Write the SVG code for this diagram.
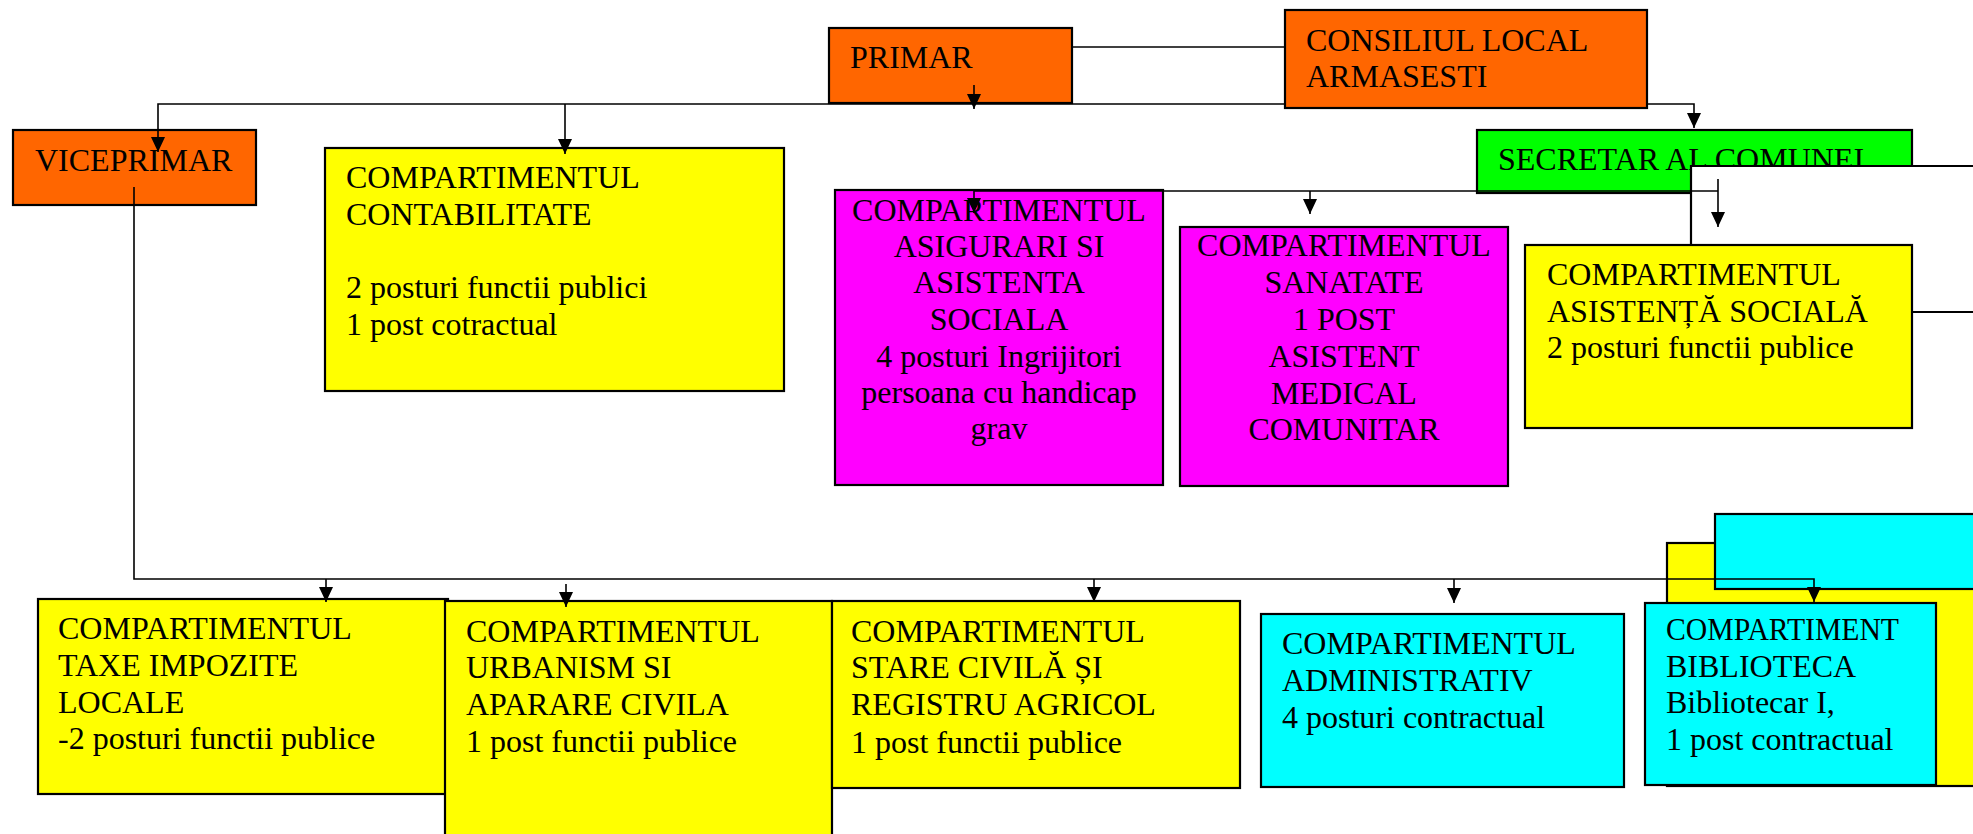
<svg xmlns="http://www.w3.org/2000/svg" width="1973" height="834" viewBox="0 0 1973 834">
<style>
.box{stroke:#000;stroke-width:2.2}
.or{fill:#FF6600}.ye{fill:#FFFF00}.mg{fill:#FF00FF}.gr{fill:#00FF00}.cy{fill:#00FFFF}
text{font-family:"Liberation Serif","Times New Roman",serif;font-size:32px;fill:#000}
.c{text-anchor:middle}
.ln{fill:none;stroke:#000;stroke-width:1.6}
</style>
<defs>
<marker id="ah" markerUnits="userSpaceOnUse" markerWidth="15" markerHeight="14" refX="15" refY="7" orient="auto">
<path d="M0,0 L15,7 L0,14 z" fill="#000"/>
</marker>
</defs>

<g id="primar"><rect class="box or" x="829" y="28" width="243" height="75"/><text x="850" y="68">PRIMAR</text></g>
<g id="consiliul"><rect class="box or" x="1285" y="10" width="362" height="98"/><text x="1306" y="51">CONSILIUL LOCAL</text><text x="1306" y="87">ARMASESTI</text></g>
<g id="viceprimar"><rect class="box or" x="13" y="130" width="243" height="75"/><text x="35" y="171">VICEPRIMAR</text></g>
<g id="contabilitate"><rect class="box ye" x="325" y="148" width="459" height="243"/>
<text x="346" y="188">COMPARTIMENTUL</text><text x="346" y="225">CONTABILITATE</text>
<text x="346" y="298">2 posturi functii publici</text><text x="346" y="335">1 post cotractual</text></g>
<g id="secretar"><rect class="box gr" x="1477" y="130" width="435" height="63"/><text x="1498" y="170">SECRETAR AL COMUNEI</text></g>
<g id="overlay"><rect x="1691" y="166" width="300" height="79" fill="#fff"/><path class="ln" style="stroke-width:2.2" d="M1691,245 V166 H1980"/></g>
<g id="asigurari"><rect class="box mg" x="835" y="190" width="328" height="295"/>
<text class="c" x="999" y="221">COMPARTIMENTUL</text><text class="c" x="999" y="257">ASIGURARI SI</text>
<text class="c" x="999" y="293">ASISTENTA</text><text class="c" x="999" y="330">SOCIALA</text>
<text class="c" x="999" y="367">4 posturi Ingrijitori</text><text class="c" x="999" y="403">persoana cu handicap</text>
<text class="c" x="999" y="439">grav</text></g>
<g id="sanatate"><rect class="box mg" x="1180" y="227" width="328" height="259"/>
<text class="c" x="1344" y="256">COMPARTIMENTUL</text><text class="c" x="1344" y="293">SANATATE</text>
<text class="c" x="1344" y="330">1 POST</text><text class="c" x="1344" y="367">ASISTENT</text>
<text class="c" x="1344" y="404">MEDICAL</text><text class="c" x="1344" y="440">COMUNITAR</text></g>
<g id="asistenta"><rect class="box ye" x="1525" y="245" width="387" height="183"/>
<text x="1547" y="285">COMPARTIMENTUL</text><text x="1547" y="322">ASISTENȚĂ SOCIALĂ</text><text x="1547" y="358">2 posturi functii publice</text></g>

<g id="taxe"><rect class="box ye" x="38" y="599" width="410" height="195"/>
<text x="58" y="639">COMPARTIMENTUL</text><text x="58" y="676">TAXE IMPOZITE</text><text x="58" y="713">LOCALE</text><text x="58" y="749">-2 posturi functii publice</text></g>
<g id="urbanism"><rect class="box ye" x="445" y="601" width="387" height="245"/>
<text x="466" y="642">COMPARTIMENTUL</text><text x="466" y="678">URBANISM SI</text><text x="466" y="715">APARARE CIVILA</text><text x="466" y="752">1 post functii publice</text></g>
<g id="stare"><rect class="box ye" x="832" y="601" width="408" height="187"/>
<text x="851" y="642">COMPARTIMENTUL</text><text x="851" y="678">STARE CIVILĂ ȘI</text><text x="851" y="715">REGISTRU AGRICOL</text><text x="851" y="753">1 post functii publice</text></g>
<g id="administrativ"><rect class="box cy" x="1261" y="614" width="363" height="173"/>
<text x="1282" y="654">COMPARTIMENTUL</text><text x="1282" y="691">ADMINISTRATIV</text><text x="1282" y="728">4 posturi contractual</text></g>
<g id="bg-yellow"><rect class="box ye" x="1667" y="543" width="330" height="243"/></g>
<g id="bg-cyan"><rect class="box cy" x="1715" y="514" width="290" height="75"/></g>
<g id="biblioteca"><rect class="box cy" x="1645" y="603" width="291" height="182"/>
<text x="1666" y="640" textLength="233" lengthAdjust="spacingAndGlyphs">COMPARTIMENT</text><text x="1666" y="677">BIBLIOTECA</text><text x="1666" y="713">Bibliotecar I,</text><text x="1666" y="750">1 post contractual</text></g>

<g id="connectors">
<path class="ln" d="M1072,47 H1285"/>
<path class="ln" d="M1285,104 H158 V152" marker-end="url(#ah)"/>
<path class="ln" d="M565,104 V154" marker-end="url(#ah)"/>
<path class="ln" d="M974,85 V109" marker-end="url(#ah)"/>
<path class="ln" d="M1647,104 H1694 V128" marker-end="url(#ah)"/>
<path class="ln" d="M974,191 H1718"/>
<path class="ln" d="M974,191 V213" marker-end="url(#ah)"/>
<path class="ln" d="M1310,191 V214" marker-end="url(#ah)"/>
<path class="ln" d="M1718,179 V227" marker-end="url(#ah)"/>
<path class="ln" style="stroke-width:2" d="M1912,312 H1973"/>
<path class="ln" d="M134,187 V579 H1814 V602" marker-end="url(#ah)"/>
<path class="ln" d="M326,579 V602" marker-end="url(#ah)"/>
<path class="ln" d="M566,584 V607" marker-end="url(#ah)"/>
<path class="ln" d="M1094,579 V602" marker-end="url(#ah)"/>
<path class="ln" d="M1454,579 V603" marker-end="url(#ah)"/>
</g>
</svg>
